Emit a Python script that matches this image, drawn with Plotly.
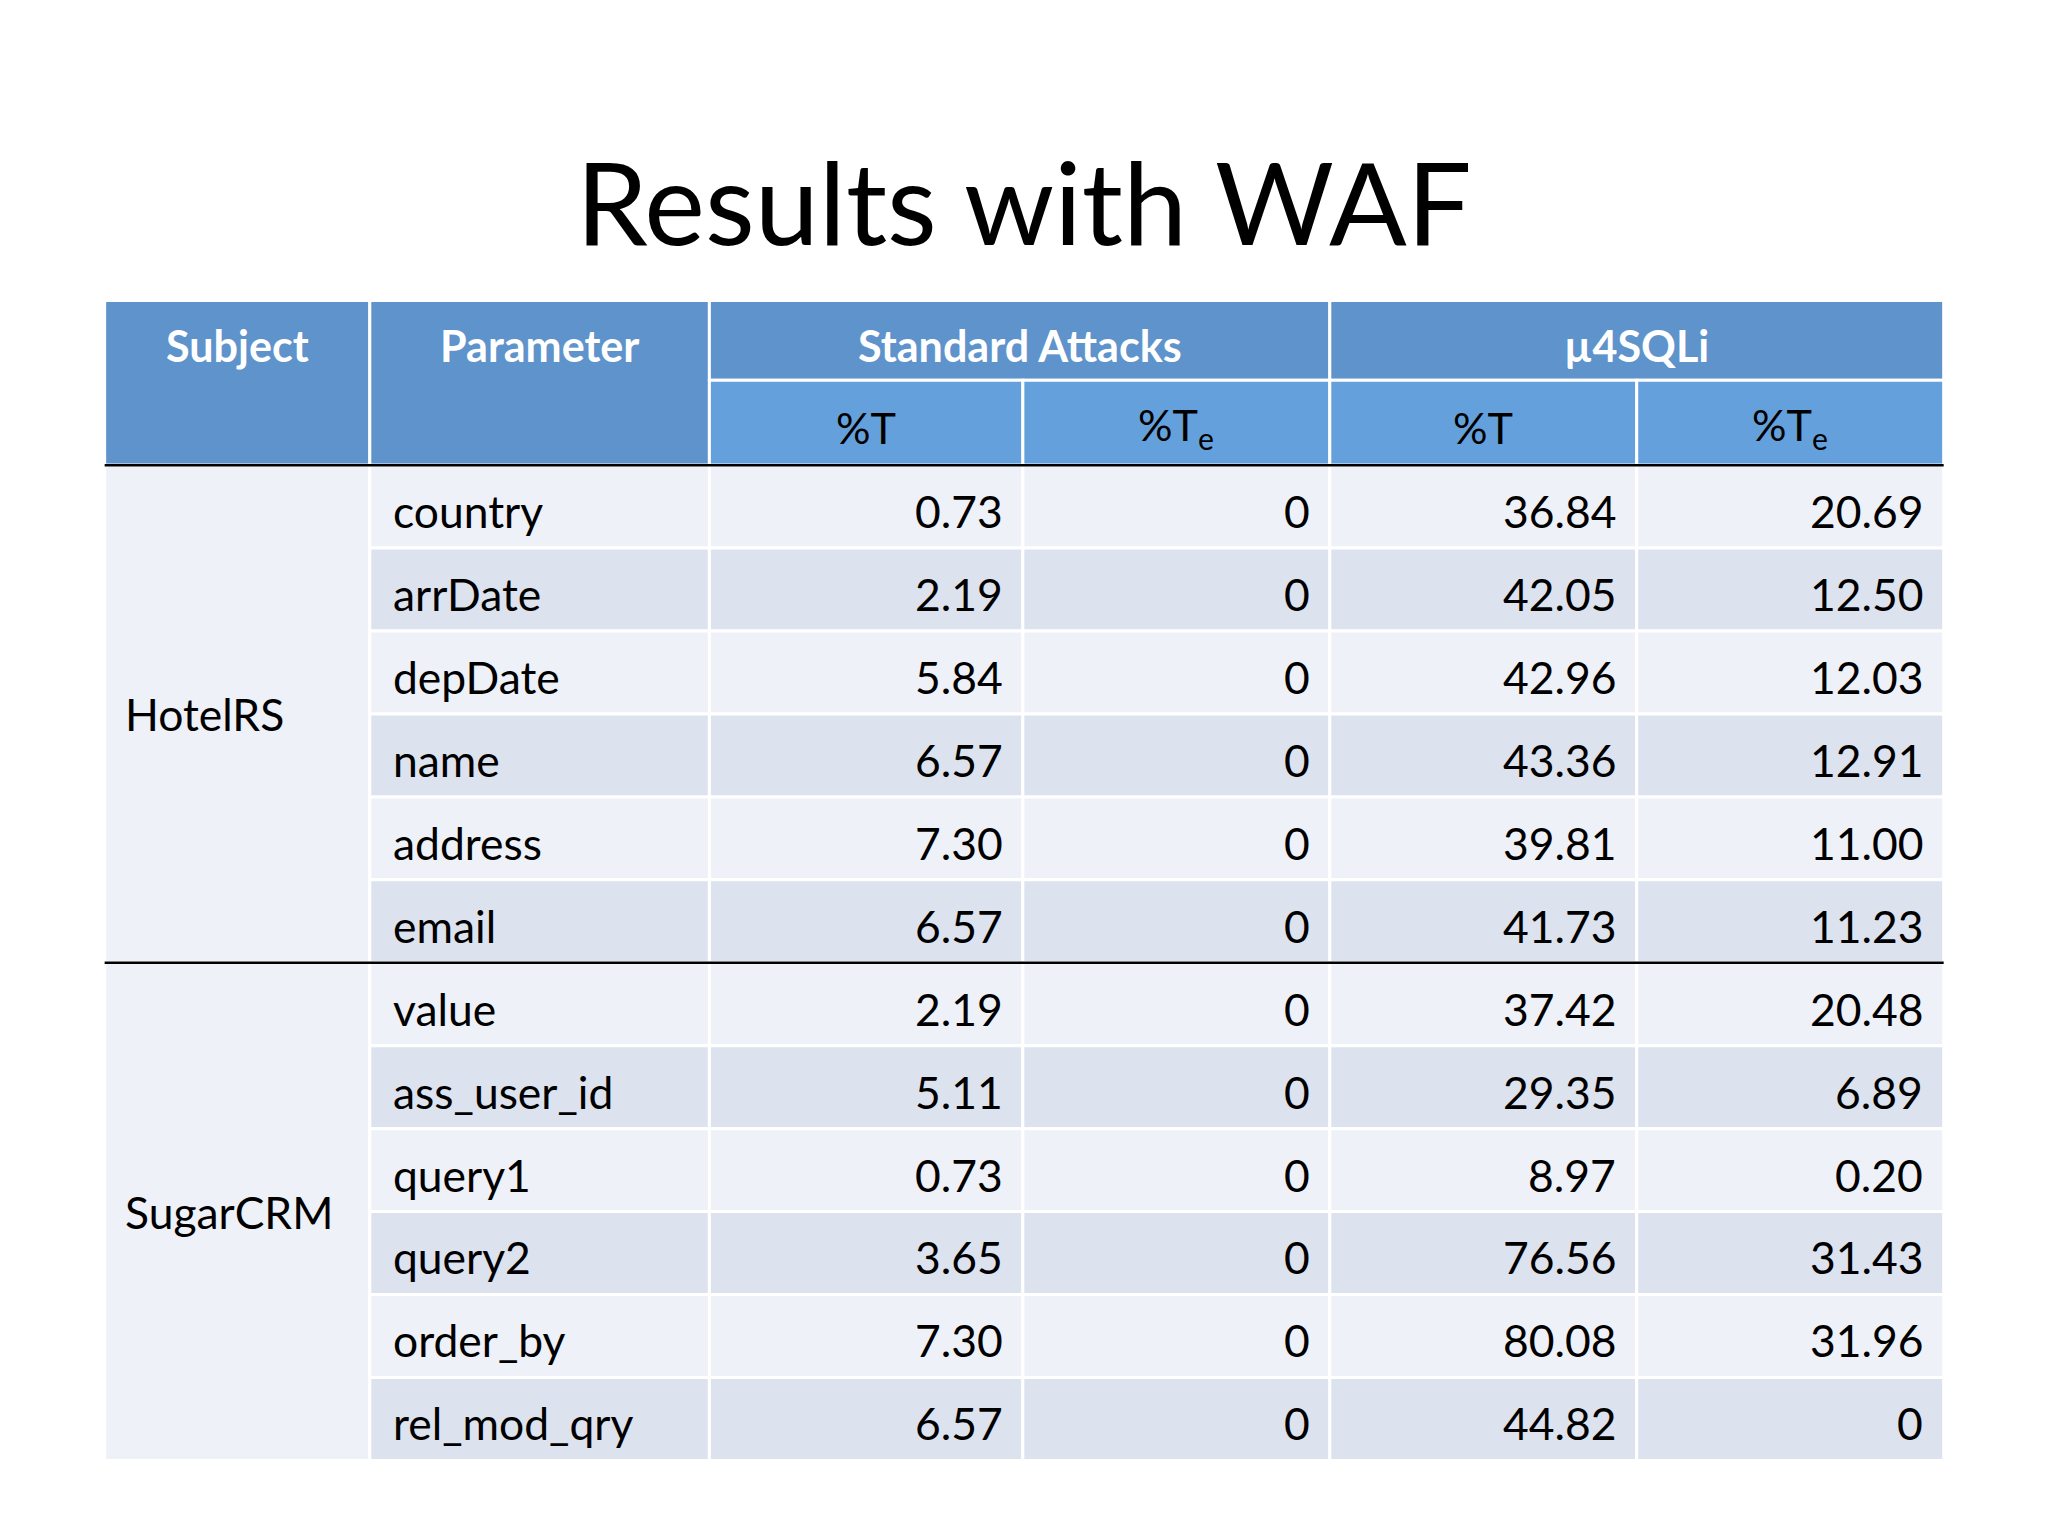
import plotly.graph_objects as go

params = ["country", "arrDate", "depDate", "name", "address", "email",
          "value", "ass_user_id", "query1", "query2", "order_by", "rel_mod_qry"]
subjects = ["HotelRS", "SugarCRM"]
std_t = ["0.73", "2.19", "5.84", "6.57", "7.30", "6.57", "2.19", "5.11", "0.73", "3.65", "7.30", "6.57"]
std_te = ["0"] * 12
mu_t = ["36.84", "42.05", "42.96", "43.36", "39.81", "41.73", "37.42", "29.35", "8.97", "76.56", "80.08", "44.82"]
mu_te = ["20.69", "12.50", "12.03", "12.91", "11.00", "11.23", "20.48", "6.89", "0.20", "31.43", "31.96", "0"]

W, H = 1568, 1176
S = 2048 / W
OFF = 6  # compensate page body margin
cols = [80, 283, 543, 783, 1018, 1253, 1488]
top, mid, hb = 230, 291, 356
rh = (1118 - hb) / 12
FONT = "Lato"
dark, light = "#5F93CB", "#64A0DC"
rowa, rowb = "#EEF1F7", "#DCE2EE"

fig = go.Figure()
shapes, ann = [], []

def rect(x0, y0, x1, y1, fill):
    shapes.append(dict(type="rect", x0=x0, x1=x1, y0=y0, y1=y1, fillcolor=fill,
                       line=dict(color="white", width=3), layer="below"))

def txt(x, y, t, size, color="black", anchor="center", bold=False):
    if bold:
        t = "<b>" + t + "</b>"
    ann.append(dict(x=x, y=y, text=t, showarrow=False, xanchor=anchor, yanchor="middle",
                    font=dict(family=FONT, size=size * S, color=color)))

# header
rect(cols[0], top, cols[1], hb, dark)
rect(cols[1], top, cols[2], hb, dark)
rect(cols[2], top, cols[4], mid, dark)
rect(cols[4], top, cols[6], mid, dark)
for i in range(2, 6):
    rect(cols[i], mid, cols[i + 1], hb, light)
txt((cols[0] + cols[1]) / 2, 264, "Subject", 33, "white", bold=True)
txt((cols[1] + cols[2]) / 2, 264, "Parameter", 33, "white", bold=True)
txt((cols[2] + cols[4]) / 2, 264, "Standard Attacks", 33, "white", bold=True)
txt((cols[4] + cols[6]) / 2, 264, "µ4SQLi", 33, "white", bold=True)
for i, lab in enumerate(["%T", "%T<sub>e</sub>", "%T", "%T<sub>e</sub>"]):
    txt((cols[i + 2] + cols[i + 3]) / 2, 327, lab, 33)

# body
for g in range(2):
    rect(cols[0], hb + 6 * g * rh, cols[1], hb + 6 * (g + 1) * rh, rowa)
    txt(cols[0] + 14, hb + (6 * g + 3) * rh, subjects[g], 34, anchor="left")
for r in range(12):
    y0 = hb + r * rh
    yc = y0 + rh / 2 + 3
    fill = rowa if r % 2 == 0 else rowb
    for i in range(1, 6):
        rect(cols[i], y0, cols[i + 1], y0 + rh, fill)
    txt(cols[1] + 16, yc, params[r], 34, anchor="left")
    for i, arr in enumerate([std_t, std_te, mu_t, mu_te]):
        txt(cols[i + 3] - 14, yc, arr[r], 34, anchor="right")

for y in [hb, hb + 6 * rh]:
    shapes.append(dict(type="line", x0=cols[0], x1=cols[6], y0=y, y1=y,
                       line=dict(color="black", width=2.5)))

txt(W / 2, 153, "Results with WAF", 88)

fig.update_layout(width=2048, height=1536, margin=dict(l=0, r=0, t=0, b=0),
                  plot_bgcolor="white", paper_bgcolor="white",
                  shapes=shapes, annotations=ann,
                  xaxis=dict(range=[OFF, W + OFF], visible=False, fixedrange=True),
                  yaxis=dict(range=[H + OFF, OFF], visible=False, fixedrange=True))
fig.write_html("out.html")
